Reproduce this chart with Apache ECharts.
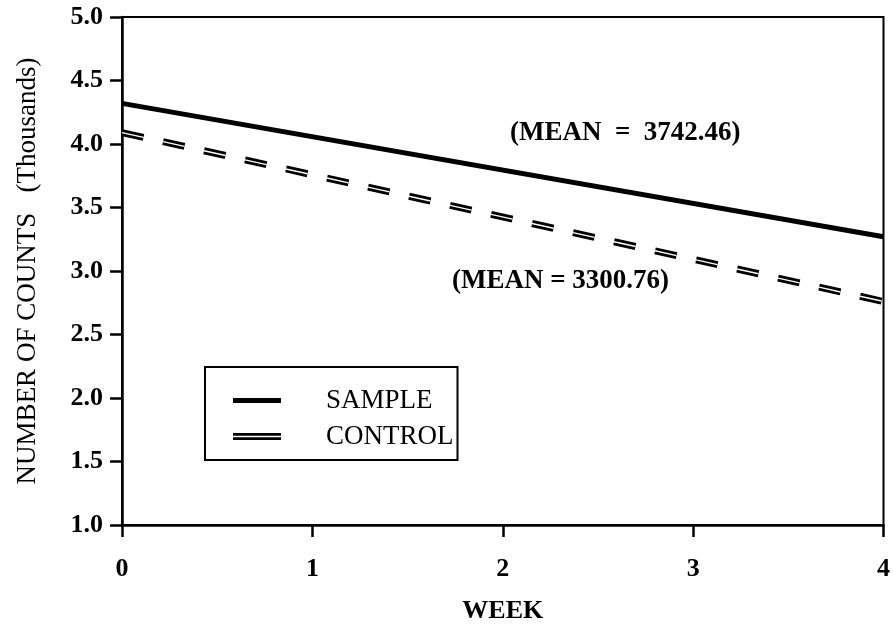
<!DOCTYPE html>
<html>
<head>
<meta charset="utf-8">
<script src="https://cdn.jsdelivr.net/npm/echarts@6/dist/echarts.min.js"></script>
<style>
html,body{margin:0;padding:0;background:#fff;}
#chart{width:893px;height:629px;}
</style>
</head>
<body>
<div id="chart"></div>
<script>
var weeks = [0, 4];
var sampleValues = [4.32, 3.27];
var controlValues = [4.09, 2.76];
var yTicks = [1.0, 1.5, 2.0, 2.5, 3.0, 3.5, 4.0, 4.5, 5.0];
var xTicks = [0, 1, 2, 3, 4];
var sampleMeanLabel = '(MEAN  =  3742.46)';
var controlMeanLabel = '(MEAN = 3300.76)';

var font = '"Liberation Serif", "Times New Roman", serif';
function pairs(xs, ys){ return xs.map(function(x,i){ return [x, ys[i]]; }); }

var chart = echarts.init(document.getElementById('chart'));
chart.setOption({
  animation: false,
  backgroundColor: '#fff',
  grid: {left: 122, right: 7, top: 17, bottom: 104, show: true, borderColor: '#000', borderWidth: 2, backgroundColor: 'transparent'},
  xAxis: {
    type: 'value', min: xTicks[0], max: xTicks[xTicks.length-1], interval: 1,
    name: 'WEEK', nameLocation: 'middle', nameGap: 73,
    nameTextStyle: {fontFamily: font, fontSize: 26, fontWeight: 'bold', color: '#000'},
    axisLine: {show: true, lineStyle: {color: '#000', width: 2.5}},
    axisTick: {show: true, length: 12, lineStyle: {color: '#000', width: 2.5}},
    axisLabel: {fontFamily: font, fontSize: 26, fontWeight: 'bold', color: '#000', margin: 31},
    splitLine: {show: false}
  },
  yAxis: {
    type: 'value', min: yTicks[0], max: yTicks[yTicks.length-1], interval: 0.5,
    name: 'NUMBER OF COUNTS   (Thousands)', nameLocation: 'middle', nameGap: 81, nameRotate: 90,
    nameTextStyle: {fontFamily: font, fontSize: 27, color: '#000'},
    axisLine: {show: true, lineStyle: {color: '#000', width: 2.5}},
    axisTick: {show: true, length: 12, lineStyle: {color: '#000', width: 2.5}},
    axisLabel: {fontFamily: font, fontSize: 26, fontWeight: 'bold', color: '#000', margin: 19,
      formatter: function(v){ return v.toFixed(1); }},
    splitLine: {show: false}
  },
  legend: {
    left: 205, top: 367, orient: 'vertical',
    padding: [20, 4, 10, 28], itemGap: 9,
    borderColor: '#000', borderWidth: 2, borderRadius: 0,
    itemWidth: 48, itemHeight: 7,
    textStyle: {fontFamily: font, fontSize: 27, color: '#000', padding: [0, 0, 0, 40]},
    data: [
      {name: 'SAMPLE', icon: 'path://M0,0h48v5h-48z', itemStyle: {color: '#000'}},
      {name: 'CONTROL', icon: 'path://M0,0h48v2.8h-48zM0,4.2h48v2.8h-48z', itemStyle: {color: '#000'}}
    ]
  },
  graphic: [
    {type: 'text', left: 510, top: 120, style: {text: sampleMeanLabel, font: 'bold 27px ' + font, fill: '#000'}},
    {type: 'text', left: 452, top: 268, style: {text: controlMeanLabel, font: 'bold 27px ' + font, fill: '#000'}}
  ],
  series: [
    {name: 'SAMPLE', type: 'line', data: pairs(weeks, sampleValues), symbol: 'none',
      itemStyle: {color: '#000'}, lineStyle: {color: '#000', width: 5}},
    {name: 'CONTROL', type: 'line', data: pairs(weeks, controlValues), symbol: 'none',
      itemStyle: {color: '#000'}, lineStyle: {color: '#000', width: 7, type: [22, 20]}},
    {name: 'CONTROL-gap', type: 'line', data: pairs(weeks, controlValues), symbol: 'none',
      itemStyle: {color: '#fff'}, lineStyle: {color: '#fff', width: 1.4, type: [22, 20]}, z: 3}
  ]
});
</script>
</body>
</html>
